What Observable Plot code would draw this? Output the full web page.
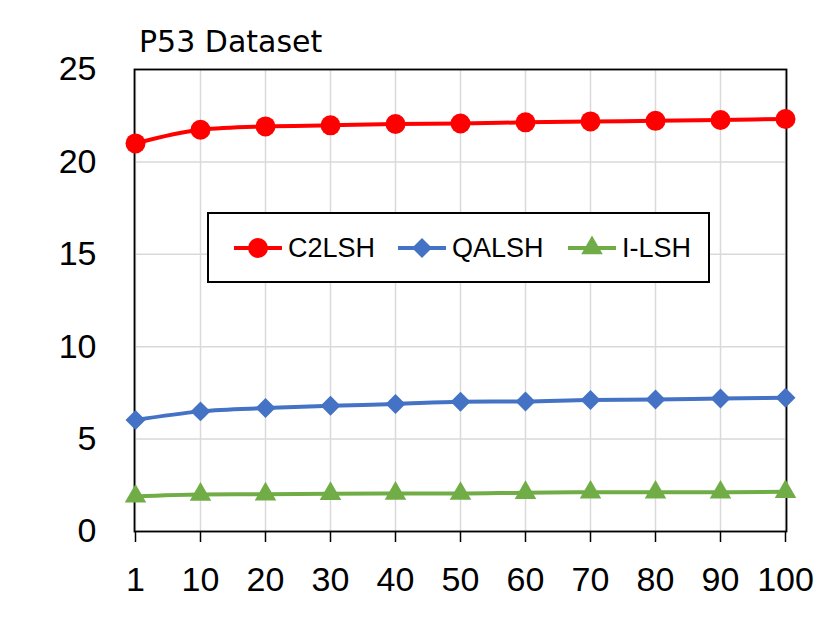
<!DOCTYPE html>
<html>
<head>
<meta charset="utf-8">
<script src="https://cdn.jsdelivr.net/npm/d3@7"></script>
<script src="https://cdn.jsdelivr.net/npm/@observablehq/plot@0.6"></script>
<style>
  html, body { margin: 0; padding: 0; background: #fff; }
  #wrap { position: relative; width: 831px; height: 630px; font-family: "Liberation Sans", Arial, sans-serif; }
  #title { position: absolute; left: 139px; top: 26.5px; font-size: 30px; color: #000; line-height: 1; font-family: "DejaVu Sans", sans-serif; }
  #legend { position: absolute; left: 207px; top: 212px; width: 499px; height: 67px; border: 2px solid #000; background: #fff;
            font-size: 27px; }
  .item { display: flex; align-items: center; position: absolute; top: 14px; }
  .item svg { display: block; }
</style>
</head>
<body>
<div id="wrap">
  <div id="chart"></div>
  <div id="title">P53 Dataset</div>
  <div id="legend"></div>
</div>
<script>
const xLabels = ["1", "10", "20", "30", "40", "50", "60", "70", "80", "90", "100"];
const c2lsh = [21.0, 21.74, 21.92, 21.98, 22.05, 22.08, 22.14, 22.19, 22.22, 22.27, 22.32];
const qalsh = [6.03, 6.5, 6.68, 6.8, 6.9, 7.02, 7.04, 7.12, 7.14, 7.2, 7.24];
const ilsh = [1.9, 2.0, 2.02, 2.04, 2.06, 2.05, 2.1, 2.12, 2.12, 2.12, 2.15];
const yTicks = [0, 5, 10, 15, 20, 25];

const seriesNames = ["C2LSH", "QALSH", "I-LSH"];
const seriesColors = ["#FF0000", "#4472C4", "#70AD47"];
const seriesSymbols = ["circle", "diamond2", "triangle"];
const seriesR = [10, 9, 8];
const seriesValues = [c2lsh, qalsh, ilsh];

const rows = seriesNames.flatMap((name, si) =>
  xLabels.map((x, i) => ({x, y: seriesValues[si][i], series: name, si})));

const marks = [
  Plot.gridX(xLabels, {stroke: "#D9D9D9", strokeOpacity: 1, strokeWidth: 1.5}),
  Plot.gridY(yTicks, {stroke: "#D9D9D9", strokeOpacity: 1, strokeWidth: 1.5}),
  Plot.axisX(xLabels, {tickSize: 11, tickPadding: 24, fontSize: 34, stroke: "#000", strokeWidth: 1.5}),
  Plot.axisY(yTicks, {tickSize: 0, tickPadding: 38, fontSize: 34}),
  Plot.frame({stroke: "#000", strokeWidth: 1.8})
];
seriesNames.forEach((name, si) => {
  const d = rows.filter(r => r.si === si);
  marks.push(Plot.line(d, {x: "x", y: "y", stroke: seriesColors[si], strokeWidth: 4, curve: "monotone-x"}));
  marks.push(Plot.dot(d, {x: "x", y: "y", fill: seriesColors[si], stroke: "none", r: seriesR[si], symbol: seriesSymbols[si]}));
});

const chart = Plot.plot({
  width: 831,
  height: 630,
  marginLeft: 134,
  marginRight: 45,
  marginTop: 69,
  marginBottom: 99,
  style: {fontFamily: '"Liberation Sans", Arial, sans-serif', color: "#000", background: "#fff"},
  x: {type: "point", domain: xLabels, padding: 0, label: null},
  y: {domain: [0, 25], label: null},
  marks
});
document.getElementById("chart").appendChild(chart);

// Legend
const legend = document.getElementById("legend");
const lefts = [23, 187, 357];
seriesNames.forEach((name, si) => {
  const item = document.createElement("div");
  item.className = "item";
  item.style.left = lefts[si] + "px";
  const svg = d3.create("svg").attr("width", 52).attr("height", 40);
  svg.append("line").attr("x1", 2).attr("x2", 50).attr("y1", 20).attr("y2", 20)
    .attr("stroke", seriesColors[si]).attr("stroke-width", 4);
  const symMap = {circle: d3.symbolCircle, diamond2: d3.symbolDiamond2, triangle: d3.symbolTriangle};
  svg.append("path").attr("transform", "translate(26,20)")
    .attr("d", d3.symbol(symMap[seriesSymbols[si]], Math.PI * seriesR[si] * seriesR[si])())
    .attr("fill", seriesColors[si]);
  item.appendChild(svg.node());
  const span = document.createElement("span");
  span.textContent = name;
  span.style.marginLeft = "4px";
  item.appendChild(span);
  legend.appendChild(item);
});
</script>
</body>
</html>
